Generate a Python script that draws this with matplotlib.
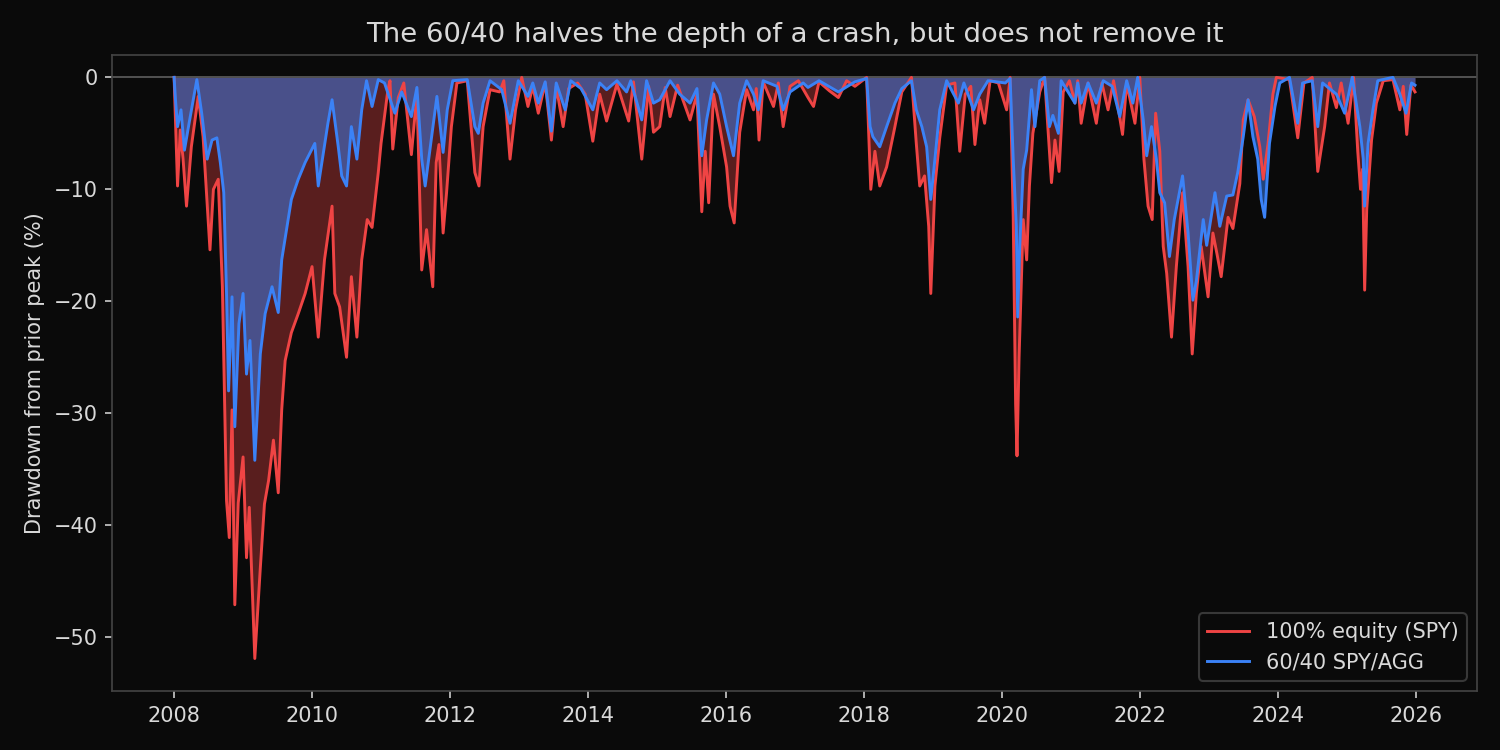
import numpy as np
import matplotlib
matplotlib.use('Agg')
import matplotlib.pyplot as plt
from matplotlib.ticker import MultipleLocator, FuncFormatter

"""Drawdown from prior peak, read off the chart (decimal year, %)"""
spy_t = [2008.00, 2008.02, 2008.05, 2008.09, 2008.13, 2008.18, 2008.25, 2008.35, 2008.42, 2008.52,
         2008.57, 2008.64, 2008.70, 2008.76, 2008.80, 2008.84, 2008.88, 2008.93, 2009.00, 2009.05,
         2009.09, 2009.17, 2009.25, 2009.31, 2009.37, 2009.44, 2009.51, 2009.56, 2009.61, 2009.70,
         2009.80, 2009.90, 2010.00, 2010.09, 2010.18, 2010.29, 2010.33, 2010.40, 2010.50, 2010.57,
         2010.65, 2010.72, 2010.80, 2010.87, 2010.96, 2011.00, 2011.10, 2011.13, 2011.17, 2011.25,
         2011.33, 2011.44, 2011.52, 2011.59, 2011.66, 2011.75, 2011.80, 2011.84, 2011.90, 2011.95,
         2012.02, 2012.10, 2012.25, 2012.36, 2012.42, 2012.48, 2012.58, 2012.72, 2012.78, 2012.87,
         2012.95, 2013.04, 2013.13, 2013.20, 2013.28, 2013.38, 2013.47, 2013.54, 2013.64, 2013.72,
         2013.85, 2013.96, 2014.07, 2014.17, 2014.27, 2014.42, 2014.59, 2014.66, 2014.78, 2014.88,
         2014.95, 2015.04, 2015.12, 2015.19, 2015.30, 2015.48, 2015.58, 2015.65, 2015.70, 2015.75,
         2015.82, 2015.91, 2016.01, 2016.06, 2016.12, 2016.20, 2016.30, 2016.40, 2016.44, 2016.48,
         2016.54, 2016.69, 2016.76, 2016.83, 2016.93, 2017.05, 2017.19, 2017.27, 2017.35, 2017.50,
         2017.63, 2017.75, 2017.87, 2018.04, 2018.10, 2018.16, 2018.23, 2018.33, 2018.45, 2018.55,
         2018.69, 2018.76, 2018.81, 2018.88, 2018.94, 2018.97, 2019.03, 2019.10, 2019.20, 2019.32,
         2019.39, 2019.47, 2019.55, 2019.61, 2019.68, 2019.75, 2019.83, 2019.95, 2020.07, 2020.12,
         2020.165, 2020.20, 2020.22, 2020.25, 2020.28, 2020.31, 2020.36, 2020.40, 2020.45, 2020.55,
         2020.62, 2020.72, 2020.77, 2020.83, 2020.89, 2020.98, 2021.06, 2021.10, 2021.15, 2021.25,
         2021.37, 2021.45, 2021.54, 2021.62, 2021.75, 2021.81, 2021.93, 2022.00, 2022.06, 2022.12,
         2022.18, 2022.23, 2022.29, 2022.34, 2022.39, 2022.46, 2022.53, 2022.62, 2022.70, 2022.76,
         2022.82, 2022.89, 2022.99, 2023.06, 2023.12, 2023.18, 2023.28, 2023.35, 2023.45, 2023.50,
         2023.57, 2023.66, 2023.74, 2023.79, 2023.86, 2023.93, 2023.98, 2024.17, 2024.29, 2024.38,
         2024.50, 2024.58, 2024.68, 2024.75, 2024.85, 2024.92, 2025.02, 2025.10, 2025.16, 2025.20,
         2025.23, 2025.26, 2025.29, 2025.36, 2025.43, 2025.53, 2025.67, 2025.77, 2025.82, 2025.87,
         2025.93, 2025.99]
spy_dd = [0.0, -4.0, -9.7, -4.7, -7.3, -11.5, -6.2, -1.7, -5.3, -15.4,
          -10.0, -9.1, -18.7, -37.8, -41.1, -29.7, -47.1, -38.0, -33.9, -42.9,
          -38.4, -51.9, -43.8, -38.1, -36.0, -32.4, -37.1, -29.7, -25.3, -22.8,
          -21.1, -19.3, -16.9, -23.2, -16.3, -11.5, -19.3, -20.5, -25.0, -17.8,
          -23.2, -16.3, -12.7, -13.4, -8.5, -5.9, -1.1, -0.3, -6.4, -1.8,
          -0.5, -6.9, -1.5, -17.2, -13.6, -18.7, -7.6, -6.0, -13.9, -10.3,
          -4.4, -0.5, -0.3, -8.5, -9.7, -4.4, -1.1, -1.3, -0.3, -7.3,
          -2.9, 0.0, -2.6, -0.8, -3.2, -0.5, -5.6, -0.8, -4.4, -1.0,
          -0.5, -1.5, -5.7, -1.5, -3.9, -0.6, -3.9, -0.4, -7.3, -0.8,
          -4.9, -4.4, -0.9, -3.5, -0.7, -3.8, -1.5, -12.0, -6.6, -11.2,
          -1.5, -4.4, -8.0, -11.5, -13.0, -4.9, -1.1, -2.9, -1.0, -5.6,
          -0.4, -2.6, -0.5, -4.4, -0.8, -0.3, -1.8, -2.6, -0.4, -1.2,
          -1.8, -0.3, -0.8, 0.0, -10.0, -6.6, -9.7, -8.0, -4.4, -1.3,
          0.0, -5.9, -9.7, -8.8, -13.3, -19.3, -9.7, -5.4, -0.7, -0.5,
          -6.6, -1.5, -0.8, -6.0, -2.0, -4.1, -0.3, -0.5, -2.9, 0.0,
          -12.5, -29.2, -33.8, -25.0, -18.7, -12.7, -16.3, -9.7, -5.0, -1.3,
          0.0, -9.4, -5.6, -8.4, -1.3, -0.3, -2.3, -0.3, -4.1, -0.5,
          -4.1, -0.5, -2.9, -0.3, -5.1, -0.5, -4.1, 0.0, -7.3, -11.5,
          -12.7, -3.2, -6.6, -15.1, -17.5, -23.2, -16.9, -10.3, -16.9, -24.7,
          -19.3, -15.1, -19.6, -13.9, -15.8, -17.8, -12.5, -13.5, -9.5, -3.8,
          -2.0, -3.5, -6.2, -9.1, -5.9, -1.5, 0.0, -0.2, -5.4, -0.5,
          0.0, -8.4, -4.4, -0.5, -2.7, -0.5, -4.1, 0.0, -6.6, -10.0,
          -8.2, -19.0, -11.8, -5.6, -2.3, -0.3, -0.2, -2.9, -0.8, -5.1,
          -0.7, -1.3]

bal_t = [2008.00, 2008.02, 2008.05, 2008.10, 2008.15, 2008.22, 2008.33, 2008.40, 2008.48, 2008.55,
         2008.62, 2008.67, 2008.72, 2008.76, 2008.79, 2008.84, 2008.88, 2008.94, 2009.00, 2009.05,
         2009.10, 2009.17, 2009.25, 2009.32, 2009.42, 2009.51, 2009.56, 2009.70, 2009.80, 2009.90,
         2010.04, 2010.09, 2010.23, 2010.29, 2010.38, 2010.43, 2010.50, 2010.57, 2010.65, 2010.72,
         2010.79, 2010.87, 2010.96, 2011.05, 2011.20, 2011.30, 2011.44, 2011.52, 2011.59, 2011.64,
         2011.72, 2011.81, 2011.90, 2011.96, 2012.04, 2012.25, 2012.36, 2012.41, 2012.48, 2012.58,
         2012.75, 2012.87, 2012.99, 2013.13, 2013.20, 2013.28, 2013.38, 2013.47, 2013.54, 2013.67,
         2013.75, 2013.90, 2014.07, 2014.17, 2014.27, 2014.42, 2014.56, 2014.62, 2014.78, 2014.85,
         2014.95, 2015.04, 2015.19, 2015.33, 2015.48, 2015.58, 2015.65, 2015.72, 2015.82, 2015.91,
         2016.01, 2016.08, 2016.11, 2016.20, 2016.30, 2016.40, 2016.47, 2016.54, 2016.74, 2016.83,
         2016.93, 2017.12, 2017.19, 2017.35, 2017.63, 2017.87, 2018.04, 2018.09, 2018.13, 2018.23,
         2018.33, 2018.45, 2018.55, 2018.69, 2018.76, 2018.84, 2018.91, 2018.97, 2019.03, 2019.10,
         2019.20, 2019.37, 2019.45, 2019.59, 2019.68, 2019.80, 2020.05, 2020.12, 2020.165, 2020.21,
         2020.23, 2020.26, 2020.31, 2020.36, 2020.43, 2020.48, 2020.55, 2020.62, 2020.69, 2020.74,
         2020.82, 2020.86, 2021.06, 2021.10, 2021.15, 2021.25, 2021.37, 2021.47, 2021.60, 2021.71,
         2021.81, 2021.90, 2021.97, 2022.05, 2022.10, 2022.17, 2022.24, 2022.29, 2022.36, 2022.43,
         2022.50, 2022.62, 2022.70, 2022.77, 2022.82, 2022.92, 2022.97, 2023.09, 2023.16, 2023.26,
         2023.35, 2023.42, 2023.50, 2023.57, 2023.64, 2023.71, 2023.76, 2023.81, 2023.88, 2023.96,
         2024.03, 2024.17, 2024.29, 2024.36, 2024.50, 2024.58, 2024.65, 2024.85, 2024.97, 2025.08,
         2025.19, 2025.24, 2025.26, 2025.31, 2025.38, 2025.45, 2025.67, 2025.77, 2025.86, 2025.94,
         2025.99]
bal_dd = [0.0, -2.0, -4.4, -2.9, -6.5, -4.0, -0.2, -3.2, -7.3, -5.6,
          -5.4, -7.6, -10.3, -19.3, -28.0, -19.6, -31.2, -22.0, -19.3, -26.5,
          -23.5, -34.2, -24.7, -21.1, -18.7, -21.0, -16.3, -10.9, -9.1, -7.6,
          -5.9, -9.7, -4.1, -2.0, -6.2, -8.8, -9.7, -4.4, -7.3, -2.9,
          -0.3, -2.6, -0.2, -0.5, -3.2, -1.3, -3.5, -0.9, -7.3, -9.7,
          -5.9, -1.7, -6.7, -2.9, -0.3, -0.2, -4.4, -5.0, -2.3, -0.3,
          -1.1, -4.1, -0.3, -1.7, -0.5, -2.3, -0.4, -4.8, -0.5, -2.9,
          -0.3, -1.0, -2.9, -0.5, -1.1, -0.3, -1.3, -0.3, -3.8, -0.3,
          -2.3, -2.0, -0.3, -1.5, -2.3, -1.0, -7.0, -3.8, -0.5, -1.5,
          -4.4, -6.2, -7.0, -2.3, -0.3, -1.5, -2.9, -0.3, -0.8, -2.9,
          -1.3, -0.5, -0.9, -0.3, -1.3, -0.4, -0.1, -4.4, -5.3, -6.2,
          -4.4, -2.3, -1.0, -0.3, -2.9, -4.4, -6.2, -10.9, -7.3, -2.9,
          -0.3, -2.3, -0.5, -2.9, -1.5, -0.3, -0.5, -0.1, -7.3, -13.3,
          -21.4, -15.1, -8.2, -6.5, -1.1, -4.4, -0.3, 0.0, -4.4, -3.4,
          -5.0, -0.3, -2.3, -0.5, -2.3, -0.5, -2.3, -0.3, -0.8, -3.5,
          -0.3, -2.3, 0.0, -3.8, -7.0, -4.4, -7.3, -10.3, -11.2, -16.0,
          -12.7, -8.8, -13.9, -19.9, -18.2, -12.7, -15.0, -10.3, -13.3, -10.6,
          -10.5, -8.5, -5.3, -2.0, -5.3, -7.3, -10.9, -12.5, -5.9, -2.6,
          -0.5, 0.0, -4.1, -0.5, -0.3, -4.4, -0.5, -1.5, -3.2, 0.0,
          -4.4, -7.3, -11.5, -5.9, -2.9, -0.3, 0.0, -1.5, -3.2, -0.5,
          -0.7]

spy_label = '100% equity (SPY)'
bal_label = '60/40 SPY/AGG'
title = 'The 60/40 halves the depth of a crash, but does not remove it'

red = '#ef4444'
blue = '#3b82f6'
bg = '#0a0a0a'
text_col = '#d9d9d9'

fig, ax = plt.subplots(figsize=(10, 5), dpi=150)
fig.patch.set_facecolor(bg)
ax.set_facecolor(bg)
fig.subplots_adjust(left=0.0747, right=0.9847, top=0.9267, bottom=0.0787)

ax.fill_between(spy_t, spy_dd, 0, color=red, alpha=0.35, linewidth=0)
ax.fill_between(bal_t, bal_dd, 0, color=blue, alpha=0.5, linewidth=0)
ax.axhline(0, color='#555555', linewidth=0.9, zorder=1)
ax.plot(spy_t, spy_dd, color=red, linewidth=1.4, label=spy_label)
ax.plot(bal_t, bal_dd, color=blue, linewidth=1.4, label=bal_label)

ax.set_ylim(-54.8, 2.0)
ax.xaxis.set_major_locator(MultipleLocator(2))
ax.xaxis.set_major_formatter(FuncFormatter(lambda v, p: f"{int(round(v))}"))

ax.set_title(title, color=text_col, fontsize=13.2)
ax.set_ylabel('Drawdown from prior peak (%)', color=text_col, fontsize=10)
ax.tick_params(colors='#cccccc', labelcolor=text_col, labelsize=10)
for s in ax.spines.values():
    s.set_color('#444444')

leg = ax.legend(loc='lower right', facecolor=bg, edgecolor='#444444', fontsize=10)
for t in leg.get_texts():
    t.set_color(text_col)

plt.savefig('out.png', dpi=150, facecolor=bg)
